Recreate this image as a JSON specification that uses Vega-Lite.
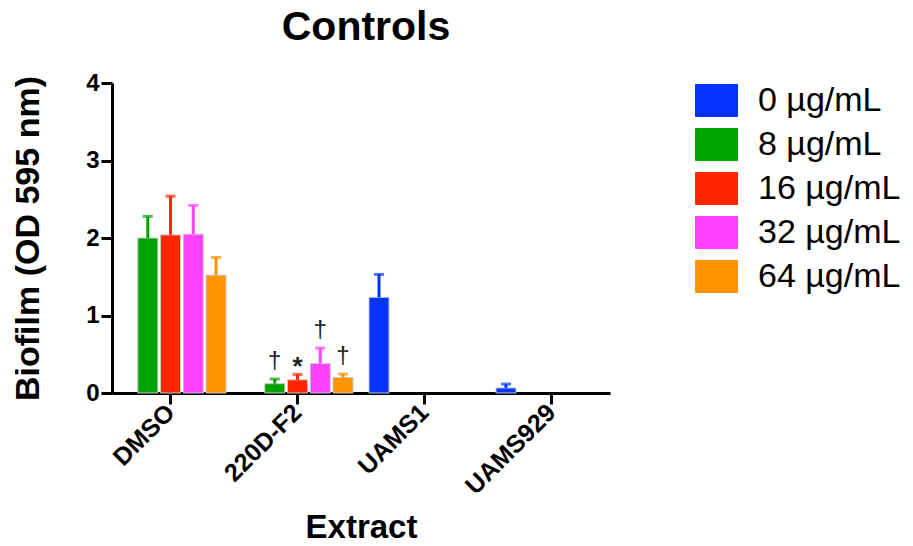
{
  "$schema": "https://vega.github.io/schema/vega-lite/v6.json",
  "width": 498,
  "height": 310,
  "autosize": {"type": "none"},
  "padding": {"left": 112, "top": 83, "right": 303, "bottom": 153},
  "background": "white",
  "title": {"text": "Controls", "fontSize": 41, "font": "Liberation Sans", "fontWeight": "bold", "anchor": "middle", "offset": 22, "dx": 5, "color": "black"},
  "config": {"view": {"stroke": null}},
  "data": {"values": [
    {"extract": "DMSO", "conc": "8 µg/mL", "value": 2.00, "err": 2.28, "sig": null},
    {"extract": "DMSO", "conc": "16 µg/mL", "value": 2.04, "err": 2.54, "sig": null},
    {"extract": "DMSO", "conc": "32 µg/mL", "value": 2.05, "err": 2.42, "sig": null},
    {"extract": "DMSO", "conc": "64 µg/mL", "value": 1.52, "err": 1.75, "sig": null},
    {"extract": "220D-F2", "conc": "8 µg/mL", "value": 0.12, "err": 0.18, "sig": "†"},
    {"extract": "220D-F2", "conc": "16 µg/mL", "value": 0.17, "err": 0.24, "sig": "*"},
    {"extract": "220D-F2", "conc": "32 µg/mL", "value": 0.38, "err": 0.58, "sig": "†"},
    {"extract": "220D-F2", "conc": "64 µg/mL", "value": 0.20, "err": 0.245, "sig": "†"},
    {"extract": "UAMS1", "conc": "0 µg/mL", "value": 1.235, "err": 1.53, "sig": null},
    {"extract": "UAMS929", "conc": "0 µg/mL", "value": 0.065, "err": 0.115, "sig": null}
  ]},
  "encoding": {
    "x": {
      "field": "extract", "type": "nominal", "sort": ["DMSO", "220D-F2", "UAMS1", "UAMS929"],
      "scale": {"paddingInner": 0.126, "paddingOuter": 0.024},
      "axis": {
        "title": "Extract", "titleFont": "Liberation Sans", "titleFontSize": 33, "titleFontWeight": "bold", "titleColor": "black", "titlePadding": 13,
        "labelAngle": -45, "labelAlign": "right", "labelBaseline": "middle", "labelFont": "Liberation Sans", "labelFontSize": 25, "labelFontWeight": "bold", "labelColor": "black", "labelPadding": 4,
        "tickSize": 11, "tickWidth": 3, "tickColor": "black", "domainWidth": 3, "domainColor": "black", "grid": false
      }
    },
    "xOffset": {
      "field": "conc", "type": "nominal",
      "scale": {"domain": ["0 µg/mL", "8 µg/mL", "16 µg/mL", "32 µg/mL", "64 µg/mL"], "paddingInner": 0.12}
    }
  },
  "layer": [
    {
      "mark": {"type": "bar", "stroke": "#c8c8c8", "strokeWidth": 1},
      "encoding": {
        "y": {
          "field": "value", "type": "quantitative", "scale": {"domain": [0, 4]},
          "axis": {
            "title": "Biofilm (OD 595 nm)", "titleFont": "Liberation Sans", "titleFontSize": 34, "titleFontWeight": "bold", "titleColor": "black", "titlePadding": 40,
            "values": [0, 1, 2, 3, 4], "format": "d", "labelFont": "Liberation Sans", "labelFontSize": 24, "labelFontWeight": "bold", "labelColor": "black", "labelPadding": 2,
            "tickSize": 11, "tickWidth": 3, "tickColor": "black", "domainWidth": 3, "domainColor": "black", "grid": false
          }
        },
        "color": {
          "field": "conc", "type": "nominal",
          "scale": {"domain": ["0 µg/mL", "8 µg/mL", "16 µg/mL", "32 µg/mL", "64 µg/mL"], "range": ["#0433FF", "#00A300", "#FF2600", "#FF40FF", "#FF9300"]},
          "legend": {
            "orient": "none", "legendX": 583, "legendY": -4, "title": null, "padding": 0,
            "symbolType": "M-1,-0.76H1V0.76H-1Z", "symbolSize": 1764, "symbolStrokeColor": "#c8c8c8", "symbolStrokeWidth": 1, "symbolOpacity": 1,
            "labelFont": "Liberation Sans", "labelFontSize": 34, "labelColor": "black", "labelOffset": 20, "rowPadding": 4, "labelLimit": 300
          }
        }
      }
    },
    {
      "mark": {"type": "rule", "strokeWidth": 3},
      "encoding": {
        "y": {"field": "value", "type": "quantitative"},
        "y2": {"field": "err"},
        "color": {"field": "conc", "type": "nominal", "legend": null}
      }
    },
    {
      "mark": {"type": "tick", "thickness": 3, "size": 10},
      "encoding": {
        "y": {"field": "err", "type": "quantitative"},
        "color": {"field": "conc", "type": "nominal", "legend": null}
      }
    },
    {
      "transform": [{"filter": "datum.sig == '†'"}],
      "mark": {"type": "text", "font": "Liberation Sans", "fontSize": 24, "baseline": "alphabetic", "dy": -11, "color": "#222222"},
      "encoding": {
        "y": {"field": "err", "type": "quantitative"},
        "text": {"field": "sig"}
      }
    },
    {
      "transform": [{"filter": "datum.sig == '*'"}],
      "mark": {"type": "text", "font": "Liberation Sans", "fontSize": 26, "fontWeight": "bold", "baseline": "alphabetic", "dy": 1, "color": "#222222"},
      "encoding": {
        "y": {"field": "err", "type": "quantitative"},
        "text": {"field": "sig"}
      }
    }
  ]
}
